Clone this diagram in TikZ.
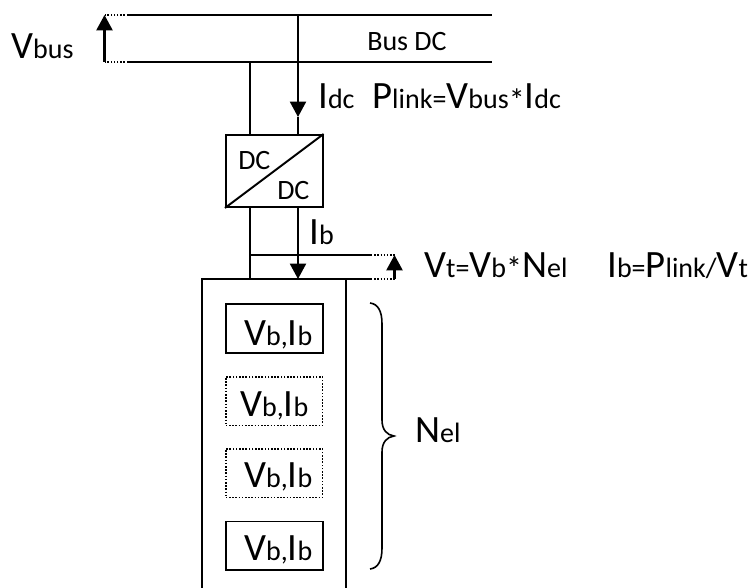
\documentclass[tikz,border=0pt]{standalone}
\usepackage{fontspec}
\setmainfont{Carlito}
\usetikzlibrary{arrows.meta}
\newcommand{\Bg}[1]{{\fontsize{29}{30}\selectfont #1}}
\newcommand{\Ast}{\raisebox{-2.2pt}{\fontsize{24}{26}\selectfont *}}
\tikzset{
 x=0.75pt,y=-0.75pt,
 wire/.style={line width=1.45pt},
 thin wire/.style={line width=1.2pt},
 dots/.style={line width=1pt,dash pattern=on 1.1pt off 1.3pt},
 arr/.style={line width=1.7pt,-{Triangle[length=11.5pt,width=12pt]}},
 label/.style={anchor=base west,inner sep=0pt,font=\fontsize{21}{24}\selectfont},
 cell/.style={draw,line width=1.45pt,minimum width=72.5pt,minimum height=36.5pt,inner sep=0pt,anchor=north west},
 dotcell/.style={cell,line width=1.2pt,dash pattern=on 1.2pt off 1.2pt},
 conv/.style={draw,line width=1.45pt,minimum width=72.5pt,minimum height=54pt,inner sep=0pt,anchor=north west},
}
\begin{document}
\begin{tikzpicture}
\useasboundingbox (0,0) rectangle (752,588);
% bus
\coordinate (busTL) at (128,15); \coordinate (busTR) at (492,15);
\coordinate (busBL) at (128,62); \coordinate (busBR) at (492,62);
\coordinate (vbusT) at (104.5,15); \coordinate (vbusB) at (104.5,62);
\coordinate (tapA) at (250,62); \coordinate (tapB) at (298,15);
\draw[wire] (busTL) -- (busTR);
\draw[wire] (busBL) -- (busBR);
\draw[dots] (busTL) -- (vbusT);
\draw[dots] (busBL) -- (vbusB);
\draw[arr] (vbusB) -- (vbusT);
% converter
\node[conv] (conv) at (225,134) {};
\draw[wire] (conv.south west) -- (conv.north east);
\node[label] (dc1) at (238,170) {DC};
\node[label] (dc2) at (277,199) {DC};
\draw[wire] (tapA) -- (tapA |- conv.north);
\coordinate (idcTip) at (298,117);
\draw[wire,-{Triangle[length=11.5pt,width=12pt]}] (tapB) -- (idcTip);
\draw[wire] (idcTip) -- (tapB |- conv.north);
% outer box
\coordinate (oTL) at (202,279); \coordinate (oTR) at (346,279);
\coordinate (oBL) at (202,590); \coordinate (oBR) at (346,590);
\draw[wire] (oBL) -- (oTL) -- (oTR) -- (oBR);
\coordinate (vtBot) at (371,279); \coordinate (vtTop) at (371,255);
\coordinate (vtAB) at (394.5,279); \coordinate (vtAT) at (394.5,255);
\draw[thin wire] (oTR) -- (vtBot);
\draw[dots] (vtBot) -- (vtAB);
\draw[dots] (vtTop) -- (vtAT);
\draw[arr] (vtAB) -- (vtAT);
\coordinate (j1) at (250,255); \coordinate (ibTip) at (298,279);
\draw[wire] (conv.south -| tapA) -- (j1) -- (j1 |- oTL);
\draw[thin wire] (j1) -- (vtTop);
\draw[wire,-{Triangle[length=11.5pt,width=12pt]}] (conv.south -| tapB) -- (ibTip);
% cells
\node[cell] (c1) at (225,303) {};
\node[dotcell] (c2) at (225,376) {};
\node[dotcell] (c3) at (225,448) {};
\node[cell] (c4) at (225,520.5) {};
\node[label] (l1) at (244,345) {\Bg{V}b,\Bg{I}b};
\node[label] (l2) at (240,416) {\Bg{V}b,\Bg{I}b};
\node[label] (l3) at (244,487) {\Bg{V}b,\Bg{I}b};
\node[label] (l4) at (244,560) {\Bg{V}b,\Bg{I}b};
% brace
\coordinate (brT) at (370,303); \coordinate (brB) at (370,569); \coordinate (brM) at (394,436);
\draw[line width=1.2pt] (brT) .. controls (378,304) and (382,311) .. (382,324)
  -- (382,420) .. controls (382,430) and (387,435) .. (brM)
  .. controls (387,437) and (382,442) .. (382,452)
  -- (382,548) .. controls (382,561) and (378,568) .. (brB);
% labels
\node[label] (vbus) at (11,59) {\Bg{V}bus};
\node[label] (busdc) at (367,51) {Bus DC};
\node[label] (idc) at (318,109) {\Bg{I}dc};
\node[label] (plink) at (372,109) {\Bg{P}link=\Bg{V}bus\Ast\Bg{I}dc};
\node[label] (ib) at (309,244) {\Bg{I}b};
\node[label] (vt) at (424,277) {\Bg{V}t=\Bg{V}b\Ast\Bg{N}el};
\node[label] (ibeq) at (607,277) {\Bg{I}b=\Bg{P}link/\Bg{V}t};
\node[label] (nel) at (415,442) {\Bg{N}el};
\end{tikzpicture}
\end{document}
